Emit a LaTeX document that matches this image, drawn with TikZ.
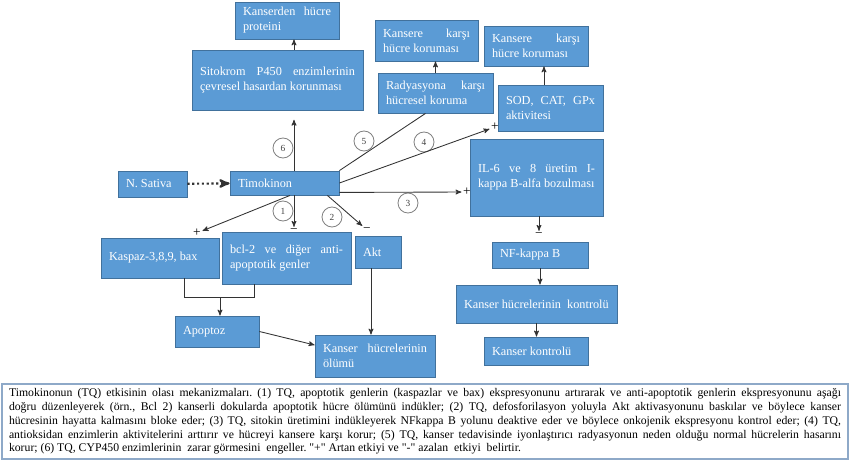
\documentclass[tikz,border=0pt]{standalone}
\usepackage{fontspec}
\setmainfont{Liberation Serif}
\usepackage{tikz}
\usetikzlibrary{arrows,calc}
\definecolor{boxblue}{HTML}{5B9BD5}
\definecolor{boxline}{HTML}{41719C}
\definecolor{capline}{HTML}{8EA9C8}
\tolerance=10000 \hbadness=10000 \hyphenpenalty=10000
\frenchspacing

\begin{document}
\begin{tikzpicture}[x=0.75pt,y=-0.75pt,>=stealth',line width=0.65pt,
    box/.style={draw=boxline,fill=boxblue,text=white,align=justify,inner xsep=6pt,inner ysep=2pt,font=\fontsize{9.2}{11.25}\selectfont},
    num/.style={circle,draw=gray,text=darkgray,minimum size=15pt,inner sep=0pt,line width=0.6pt,font=\fontsize{7}{8}\selectfont},
    sign/.style={inner sep=1pt,font=\fontsize{10}{10}\selectfont},
    link/.style={draw=black!80}]
    \useasboundingbox (0,0) rectangle (851,464);

    % boxes
    \node[box,text width=66pt,minimum height=27.75pt] (prot) at (287,20.5) {Kanserden hücre proteini};
    \node[box,text width=116.25pt,minimum height=45pt] (p450) at (277.5,80) {Sitokrom P450 enzimlerinin çevresel hasardan korunması};
    \node[box,text width=65.25pt,minimum height=30.75pt] (kk1) at (426.5,40.5) {Kansere karşı hücre koruması};
    \node[box,text width=74.25pt,minimum height=30pt] (rad) at (435.5,93) {Radyasyona karşı hücresel koruma};
    \node[box,text width=66pt,minimum height=30pt] (kk2) at (536,46) {Kansere karşı hücre koruması};
    \node[box,text width=66.75pt,minimum height=34.5pt] (sod) at (550.5,108) {SOD, CAT, GPx aktivitesi};
    \node[box,text width=87.75pt,minimum height=57.75pt] (il6) at (536.5,177.5) {IL-6 ve 8 üretim I-\linebreak kappa B-alfa bozulması};
    \node[box,text width=39.75pt,minimum height=19.5pt] (ns) at (152.5,184) {N. Sativa};
    \node[box,text width=69.75pt,minimum height=18pt] (tq) at (284.5,183) {Timokinon};
    \node[box,text width=76.5pt,minimum height=30pt] (kas) at (160,258) {Kaspaz-3,8,9, bax};
    \node[box,text width=84.75pt,minimum height=39pt] (bcl) at (286.5,258) {bcl-2 ve diğer anti-\linebreak apoptotik genler};
    \node[box,text width=22.5pt,minimum height=24pt] (akt) at (378,252) {Akt};
    \node[box,text width=51pt,minimum height=23.25pt] (apo) at (217,331.5) {Apoptoz};
    \node[box,text width=78pt,minimum height=31.5pt] (olum) at (375,356) {Kanser hücrelerinin ölümü};
    \node[box,text width=60pt,minimum height=19.5pt] (nfk) at (540,255) {NF-kappa B};
    \node[box,text width=108.75pt,minimum height=28.5pt] (ctrl) at (536.5,304) {Kanser hücrelerinin\ \ kontrolü};
    \node[box,text width=66pt,minimum height=21pt] (kk) at (536,351) {Kanser kontrolü};

    % signs
    \node[sign] (pkas) at (197,233) {+};
    \node[sign] (mbcl) at (294,231) {−};
    \node[sign] (makt) at (367,230) {−};
    \node[sign] (pil) at (467,192) {+};
    \node[sign] (psod) at (495,127) {+};
    \node[sign] (mnf) at (539,235) {−};

    % numbers
    \node[num] (n1) at (283,211) {1};
    \node[num] (n2) at (332,217) {2};
    \node[num] (n3) at (408,203) {3};
    \node[num] (n4) at (424,142) {4};
    \node[num] (n5) at (364,141) {5};
    \node[num] (n6) at (283,148) {6};

    \coordinate (vx) at (294,0);
    \coordinate (vy) at (371,0);
    \coordinate (sx) at (544,0);
    \coordinate (kx) at (184,297);
    \coordinate (bx) at (254,297);
    \coordinate (jn) at (220,297);

    % connectors
    \draw[link,->,dotted,line width=1.6pt] (ns) -- (tq);
    \draw[link,->,shorten >=7pt] (tq.north -| vx) -- (p450.south -| vx);
    \draw[link,->] (p450.north -| vx) -- (prot.south -| vx);
    \draw[link] (tq.north east) -- ($(rad.south)+(-10,0)$);
    \draw[link,->] (rad.north) -- (rad.north |- kk1.south);
    \draw[link,->] (tq.east) -- (psod);
    \draw[link,->] (sod.north -| sx) -- (kk2.south -| sx);
    \draw[link,->] ($(tq.south east)+(0,-3)$) -- (pil);
    \draw[link,->] ($(tq.south)+(5.5,0)$) -- (pkas);
    \draw[link,->] (tq.south -| vx) -- (mbcl);
    \draw[link,->] ($(tq.south east)+(-12,0)$) -- (makt);
    \draw[link] (kas.south -| kx) -- (kx) -- (bx) -- (bcl.south -| bx);
    \draw[link,->] (jn) -- (apo.north -| jn);
    \draw[link,->] (apo.east) -- ($(olum.west)+(0,-11)$);
    \draw[link,->] (akt.south -| vy) -- (olum.north -| vy);
    \draw[link,->] (il6.south -| mnf) -- (mnf);
    \draw[link,->] (nfk.south) -- (nfk.south |- ctrl.north);
    \draw[link,->] (ctrl.south) -- (ctrl.south |- kk.north);

    % caption
    \node[draw=capline,line width=0.8pt,text width=624pt,align=justify,inner xsep=5.25pt,minimum height=56.25pt,font=\fontsize{8.8}{10.3}\selectfont] (cap) at (425,421.5)
    {Timokinonun (TQ) etkisinin olası mekanizmaları. (1) TQ, apoptotik genlerin (kaspazlar ve bax) ekspresyonunu artırarak ve anti-apoptotik genlerin ekspresyonunu aşağı\linebreak
    doğru düzenleyerek (örn., Bcl 2) kanserli dokularda apoptotik hücre ölümünü indükler; (2) TQ, defosforilasyon yoluyla Akt aktivasyonunu baskılar ve böylece kanser\linebreak
    hücresinin hayatta kalmasını bloke eder; (3) TQ, sitokin üretimini indükleyerek NFkappa B yolunu deaktive eder ve böylece onkojenik ekspresyonu kontrol eder; (4) TQ,\linebreak
    antioksidan enzimlerin aktivitelerini arttırır ve hücreyi kansere karşı korur; (5) TQ, kanser tedavisinde iyonlaştırıcı radyasyonun neden olduğu normal hücrelerin hasarını\linebreak
    korur; (6) TQ, CYP450 enzimlerinin\ \ zarar görmesini\ \ engeller. \textquotedbl+\textquotedbl\ Artan etkiyi ve \textquotedbl-\textquotedbl\ azalan\ \ etkiyi\ \ belirtir.};
\end{tikzpicture}
\end{document}
